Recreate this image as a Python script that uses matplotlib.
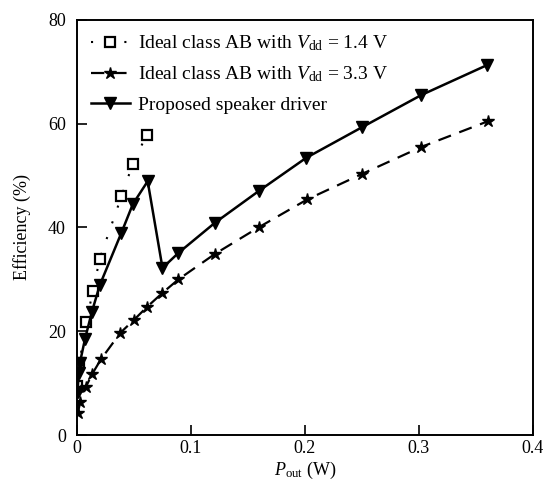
import matplotlib.pyplot as plt

plt.rcParams['font.family'] = 'Liberation Serif'
plt.rcParams['mathtext.fontset'] = 'custom'
plt.rcParams['mathtext.rm'] = 'Liberation Serif'
plt.rcParams['mathtext.it'] = 'Liberation Serif:italic'

# Ideal class AB, Vdd = 1.4 V
x_14 = [0.0, 0.002, 0.008, 0.014, 0.02, 0.039, 0.049, 0.061]
y_14 = [9.5, 13.8, 21.7, 27.8, 34.0, 46.0, 52.3, 57.8]

# Ideal class AB, Vdd = 3.3 V
x_33 = [0.0005, 0.003, 0.0076, 0.0134, 0.021, 0.038, 0.05, 0.061,
        0.075, 0.089, 0.121, 0.160, 0.202, 0.250, 0.302, 0.361]
y_33 = [4.2, 6.4, 9.2, 11.8, 14.6, 19.7, 22.2, 24.6,
        27.4, 30.0, 34.9, 40.1, 45.4, 50.3, 55.5, 60.5]

# Proposed speaker driver
x_prop = [0.0005, 0.0015, 0.0025, 0.007, 0.013, 0.02, 0.039, 0.049, 0.062,
          0.075, 0.089, 0.121, 0.160, 0.201, 0.250, 0.302, 0.360]
y_prop = [8.3, 12.0, 13.9, 18.5, 23.7, 28.9, 39.0, 44.5, 48.9,
          32.2, 35.1, 40.9, 47.1, 53.4, 59.3, 65.5, 71.3]

fig = plt.figure(figsize=(5.54, 4.95), dpi=100)
ax = fig.add_axes([0.139, 0.121, 0.823, 0.839])

ax.plot(x_14, y_14, color='k', linestyle=(0, (1, 7)), lw=1.5,
        marker='s', markersize=7, markerfacecolor='white', markeredgecolor='k',
        markeredgewidth=1.6,
        label=r'Ideal class AB with $\mathit{V}_{\rm dd}$ = 1.4 V')
ax.plot(x_33, y_33, color='k', dashes=[6, 4], lw=1.6,
        marker='*', markersize=9, markerfacecolor='k', markeredgecolor='k',
        label=r'Ideal class AB with $\mathit{V}_{\rm dd}$ = 3.3 V')
ax.plot(x_prop, y_prop, color='k', linestyle='-', lw=1.8,
        marker='v', markersize=8, markerfacecolor='k', markeredgecolor='k',
        label='Proposed speaker driver')

ax.set_xlim(0, 0.4)
ax.set_ylim(0, 80)
ax.set_xticks([0, 0.1, 0.2, 0.3, 0.4])
ax.set_xticklabels(['0', '0.1', '0.2', '0.3', '0.4'])
ax.set_yticks([0, 20, 40, 60, 80])
ax.tick_params(direction='in', length=7, width=1.2, labelsize=13, top=False, right=False)
ax.tick_params(axis='y', pad=8)
for s in ax.spines.values():
    s.set_linewidth(1.4)

ax.set_xlabel(r'$\mathit{P}_{\rm out}$ (W)', fontsize=13, labelpad=2)
ax.set_ylabel('Efficiency (%)', fontsize=13, labelpad=12)

leg = ax.legend(loc='upper left', bbox_to_anchor=(0.0, 1.0), frameon=False,
                fontsize=14, handlelength=2.0, labelspacing=0.6,
                borderaxespad=0.3, handletextpad=0.45)

fig.savefig('out.png', dpi=100)
